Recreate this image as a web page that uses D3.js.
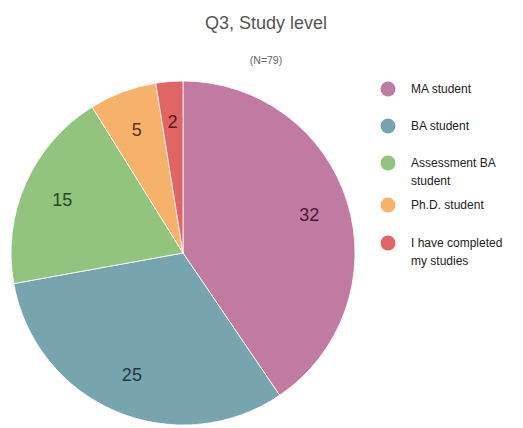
<!DOCTYPE html>
<html>
<head>
<meta charset="utf-8">
<script src="https://cdn.jsdelivr.net/npm/d3@7"></script>
<style>
  html, body { margin: 0; padding: 0; background: #fff; }
  svg { display: block; font-family: "Liberation Sans", Arial, sans-serif; }
</style>
</head>
<body>
<svg id="chart" width="523" height="428"></svg>
<script>
// Study level of respondents
const categories = ["MA student", "BA student", "Assessment BA student", "Ph.D. student", "I have completed my studies"];
const legendLines = [["MA student"], ["BA student"], ["Assessment BA", "student"], ["Ph.D. student"], ["I have completed", "my studies"]];
const counts = [32, 25, 15, 5, 2];
const sliceColors = ["#c27ba0", "#76a5af", "#93c47d", "#f6b26b", "#e06666"];
const labelColors = ["#4c1a35", "#1f3a42", "#2a4a1e", "#5a3410", "#5a1515"];

const svg = d3.select("#chart");
const cx = 183, cy = 253, radius = 172;

svg.append("text")
  .attr("x", 266).attr("y", 29)
  .attr("text-anchor", "middle")
  .attr("font-size", 18)
  .attr("fill", "#555")
  .text("Q3, Study level");

svg.append("text")
  .attr("x", 266).attr("y", 64)
  .attr("text-anchor", "middle")
  .attr("font-size", 10.5)
  .attr("fill", "#666")
  .text("(N=" + d3.sum(counts) + ")");

const pie = d3.pie().sort(null).value(d => d);
const arcs = pie(counts);
const arc = d3.arc().innerRadius(0).outerRadius(radius);
const labelArc = d3.arc().innerRadius(132).outerRadius(132);

const g = svg.append("g").attr("transform", `translate(${cx},${cy})`);

g.selectAll("path")
  .data(arcs)
  .join("path")
  .attr("d", arc)
  .attr("fill", (d, i) => sliceColors[i])
  .attr("stroke", "#fff")
  .attr("stroke-width", 0.8);

g.selectAll("text.val")
  .data(arcs)
  .join("text")
  .attr("class", "val")
  .attr("transform", d => `translate(${labelArc.centroid(d)})`)
  .attr("text-anchor", "middle")
  .attr("dy", "0.35em")
  .attr("font-size", 18)
  .attr("fill", (d, i) => labelColors[i])
  .text(d => d.data);

// Legend
const legendY = [89, 126, 163, 205, 243];
const legend = svg.append("g");
categories.forEach((c, i) => {
  const row = legend.append("g").attr("transform", `translate(388,${legendY[i]})`);
  row.append("circle").attr("r", 7.5).attr("fill", sliceColors[i]);
  const t = row.append("text")
    .attr("x", 23).attr("y", 4)
    .attr("font-size", 12)
    .attr("fill", "#222");
  legendLines[i].forEach((line, j) => {
    t.append("tspan").attr("x", 23).attr("dy", j === 0 ? 0 : 18).text(line);
  });
});
</script>
</body>
</html>
